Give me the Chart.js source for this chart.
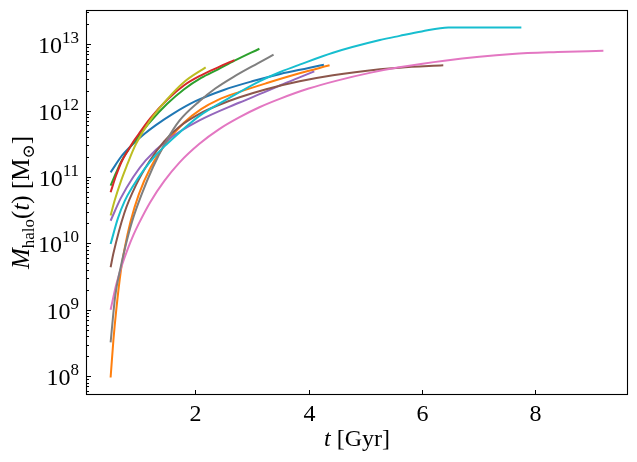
<!DOCTYPE html>
<html>
<head>
<meta charset="utf-8">
<script src="https://cdn.jsdelivr.net/npm/chart.js@4.4.1/dist/chart.umd.min.js"></script>
<style>
  html, body { margin: 0; padding: 0; background: #fff; }
  #wrap { width: 637px; height: 462px; }
</style>
</head>
<body>
<div id="wrap"><canvas id="theCanvas" width="637" height="462"></canvas></div>
<script>
// halo mass histories (t in Gyr, M in Msun)
var tBlue = [0.5, 0.7, 0.9, 1.1, 1.3, 1.6, 2.0, 2.5, 3.0, 3.5, 4.0, 4.27];
var mBlue = [1.17e11, 2.09e11, 3.16e11, 4.47e11, 6.03e11, 8.91e11, 1.38e12, 2.04e12, 2.75e12, 3.55e12, 4.37e12, 4.9e12];

var tOrange = [0.5, 0.55, 0.6, 0.68, 0.75, 0.85, 1.0, 1.2, 1.5, 1.8, 2.1, 2.4, 2.78, 3.25, 3.84, 4.37];
var mOrange = [9.55e7, 3.55e8, 1.0e9, 3.8e9, 8.51e9, 2.09e10, 5.5e10, 1.35e11, 3.39e11, 6.61e11, 1.05e12, 1.45e12, 1.91e12, 2.57e12, 3.63e12, 4.79e12];

var tGreen = [0.5, 0.6, 0.7, 0.8, 0.9, 1.0, 1.2, 1.5, 1.8, 2.1, 2.4, 2.69, 3.13];
var mGreen = [7.41e10, 1.17e11, 1.78e11, 2.45e11, 3.24e11, 4.17e11, 6.76e11, 1.26e12, 2.09e12, 3.09e12, 4.17e12, 5.62e12, 8.51e12];

var tRed = [0.5, 0.6, 0.7, 0.8, 0.9, 1.0, 1.2, 1.5, 1.8, 2.1, 2.4, 2.69];
var mRed = [5.89e10, 1.07e11, 1.74e11, 2.45e11, 3.39e11, 4.47e11, 7.59e11, 1.45e12, 2.4e12, 3.39e12, 4.47e12, 5.75e12];

var tPurple = [0.5, 0.68, 0.9, 1.12, 1.5, 2.07, 2.78, 3.2, 3.5, 3.84, 4.1];
var mPurple = [2.19e10, 4.79e10, 1.0e11, 1.78e11, 3.55e11, 7.08e11, 1.32e12, 1.86e12, 2.4e12, 3.16e12, 3.89e12];

var tBrown = [0.5, 0.55, 0.74, 0.95, 1.19, 1.45, 1.72, 2.07, 2.4, 2.78, 3.25, 3.84, 4.43, 5.26, 5.61, 6.38];
var mBrown = [4.37e9, 7.08e9, 2.82e10, 7.59e10, 1.74e11, 3.47e11, 5.75e11, 8.91e11, 1.2e12, 1.58e12, 2.09e12, 2.75e12, 3.39e12, 4.17e12, 4.42e12, 4.79e12];

var tPink = [0.5, 0.6, 0.7, 0.8, 0.9, 1.0, 1.2, 1.45, 1.72, 2.07, 2.42, 2.78, 3.13, 3.5, 4.0, 4.5, 5.1, 5.6, 6.4, 7.6, 8.4, 9.21];
var mPink = [1.0e9, 2.4e9, 4.68e9, 8.13e9, 1.32e10, 2.0e10, 4.17e10, 8.71e10, 1.66e11, 3.16e11, 5.25e11, 7.94e11, 1.12e12, 1.51e12, 2.14e12, 2.82e12, 3.72e12, 4.47e12, 5.62e12, 7.08e12, 7.59e12, 7.94e12];

var tGray = [0.5, 0.58, 0.68, 0.76, 0.88, 1.05, 1.25, 1.47, 1.72, 2.07, 2.35, 2.66, 3.1, 3.38];
var mGray = [3.24e8, 1.58e9, 4.47e9, 8.91e9, 2.14e10, 5.5e10, 1.41e11, 3.31e11, 7.08e11, 1.38e12, 2.14e12, 3.16e12, 5.13e12, 6.92e12];

var tOlive = [0.5, 0.57, 0.68, 0.8, 0.89, 0.95, 1.19, 1.5, 1.8, 2.18];
var mOlive = [2.63e10, 4.37e10, 8.51e10, 1.58e11, 2.45e11, 3.16e11, 6.92e11, 1.48e12, 2.69e12, 4.47e12];

var tCyan = [0.5, 0.63, 0.75, 0.88, 1.1, 1.3, 1.5, 1.72, 2.07, 2.66, 3.13, 3.5, 3.84, 4.43, 5.26, 5.61, 6.0, 6.47, 7.76];
var mCyan = [9.77e9, 2.4e10, 4.37e10, 6.92e10, 1.32e11, 2.14e11, 3.16e11, 4.68e11, 8.32e11, 1.66e12, 2.75e12, 3.8e12, 4.9e12, 7.41e12, 1.15e13, 1.33e13, 1.55e13, 1.78e13, 1.78e13];

var xTicks = [2, 4, 6, 8];
var yDecades = [8, 9, 10, 11, 12, 13];

var series = [
    [tBlue, mBlue, '#1f77b4'],
    [tOrange, mOrange, '#ff7f0e'],
    [tGreen, mGreen, '#2ca02c'],
    [tRed, mRed, '#d62728'],
    [tPurple, mPurple, '#9467bd'],
    [tBrown, mBrown, '#8c564b'],
    [tPink, mPink, '#e377c2'],
    [tGray, mGray, '#7f7f7f'],
    [tOlive, mOlive, '#bcbd22'],
    [tCyan, mCyan, '#17becf']
];

var serif = '"Liberation Serif", "DejaVu Serif", serif';

var datasets = [];
for (var i = 0; i < series.length; i++) {
    var pts = [];
    for (var j = 0; j < series[i][0].length; j++) {
        pts.push({x: series[i][0][j], y: series[i][1][j]});
    }
    datasets.push({
        data: pts,
        borderColor: series[i][2],
        borderWidth: 2,
        pointRadius: 0,
        fill: false,
        cubicInterpolationMode: 'monotone',
        order: series.length - i   // last one on top, like matplotlib
    });
}

// draw a row of text pieces with different fonts / offsets
function drawRuns(ctx, runs, x, y) {
    var total = 0;
    for (var k = 0; k < runs.length; k++) {
        ctx.font = runs[k].font;
        total += ctx.measureText(runs[k].text).width;
    }
    var cx = x - total / 2;
    ctx.textAlign = 'left';
    ctx.textBaseline = 'alphabetic';
    for (var k = 0; k < runs.length; k++) {
        ctx.font = runs[k].font;
        ctx.fillText(runs[k].text, cx, y + (runs[k].dy || 0));
        cx += ctx.measureText(runs[k].text).width;
    }
}

var axesPlugin = {
    id: 'mplAxes',
    afterDraw: function(chart) {
        var ctx = chart.ctx, a = chart.chartArea;
        var xs = chart.scales.x, ys = chart.scales.y;
        ctx.save();
        ctx.strokeStyle = '#000';
        ctx.fillStyle = '#000';
        ctx.lineWidth = 1.1;
        ctx.strokeRect(Math.round(a.left) + 0.5, Math.round(a.top) + 0.5,
            Math.round(a.right - a.left) - 1, Math.round(a.bottom - a.top) - 1);

        // x ticks, pointing in
        ctx.lineWidth = 1;
        for (var i = 0; i < xTicks.length; i++) {
            var px = Math.round(xs.getPixelForValue(xTicks[i])) + 0.5;
            ctx.beginPath();
            ctx.moveTo(px, a.bottom);
            ctx.lineTo(px, a.bottom - 5);
            ctx.stroke();
            ctx.font = '24px ' + serif;
            ctx.textAlign = 'center';
            ctx.textBaseline = 'alphabetic';
            ctx.fillText(String(xTicks[i]), px, a.bottom + 26);
        }

        // y ticks: decades major, 2..9 minor
        for (var d = 7; d <= 13; d++) {
            for (var m = 1; m <= 9; m++) {
                var v = m * Math.pow(10, d);
                if (v < ys.min || v > ys.max) continue;
                var py = Math.round(ys.getPixelForValue(v)) + 0.5;
                ctx.beginPath();
                ctx.moveTo(a.left, py);
                ctx.lineTo(a.left + (m === 1 ? 5 : 3), py);
                ctx.stroke();
            }
        }
        for (var i = 0; i < yDecades.length; i++) {
            var py = ys.getPixelForValue(Math.pow(10, yDecades[i]));
            var exp = String(yDecades[i]);
            ctx.textAlign = 'right';
            ctx.textBaseline = 'alphabetic';
            ctx.font = '17px ' + serif;
            var ew = ctx.measureText(exp).width;
            var right = a.left - 7;
            ctx.fillText(exp, right, py - 1);
            ctx.font = '24px ' + serif;
            ctx.fillText('10', right - ew, py + 9);
        }

        // axis titles
        drawRuns(ctx, [
            {text: 't', font: 'italic 24px ' + serif},
            {text: ' [Gyr]', font: '24px ' + serif}
        ], (a.left + a.right) / 2, a.bottom + 51);

        ctx.save();
        ctx.translate(29, (a.top + a.bottom) / 2);
        ctx.rotate(-Math.PI / 2);
        drawRuns(ctx, [
            {text: 'M', font: 'italic 25px ' + serif},
            {text: 'halo', font: '17px ' + serif, dy: 5},
            {text: '(', font: '25px ' + serif},
            {text: 't', font: 'italic 25px ' + serif},
            {text: ')', font: '25px ' + serif},
            {text: ' [M', font: '25px ' + serif},
            {text: '\u2299', font: '17px ' + serif, dy: 5},
            {text: ']', font: '25px ' + serif}
        ], 0, 0);
        ctx.restore();
        ctx.restore();
    }
};

var ctx = document.getElementById('theCanvas');
var myChart = new Chart(ctx, {
    type: 'line',
    data: { datasets: datasets },
    options: {
        responsive: false,
        devicePixelRatio: 1,
        animation: false,
        layout: { padding: { left: 86, top: 10, right: 9, bottom: 67 } },
        plugins: { legend: { display: false }, tooltip: { enabled: false } },
        scales: {
            x: {
                type: 'linear',
                display: false,
                min: 0.065,
                max: 9.645
            },
            y: {
                type: 'logarithmic',
                display: false,
                min: 5.21e7,
                max: 3.26e13
            }
        }
    },
    plugins: [axesPlugin]
});
</script>
</body>
</html>
